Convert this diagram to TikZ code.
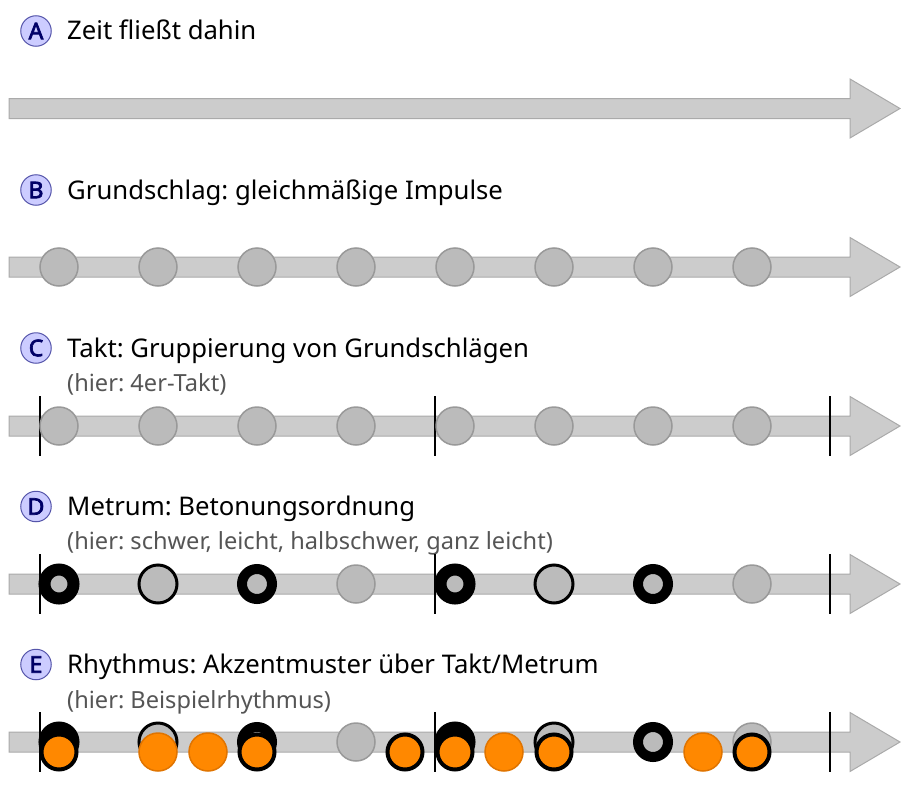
\documentclass[tikz,border=0pt]{standalone}
\usepackage{fontspec}
\setmainfont{Noto Sans}
\newfontfamily\letfont{Noto Sans}[FakeBold=3]
\frenchspacing
\definecolor{shaft}{HTML}{CCCCCC}
\definecolor{shaftline}{HTML}{AAAAAA}
\definecolor{beatfill}{HTML}{BBBBBB}
\definecolor{beatline}{HTML}{999999}
\definecolor{lettfill}{HTML}{CCCCFF}
\definecolor{lettline}{HTML}{5555AA}
\definecolor{lettcol}{HTML}{000066}
\definecolor{subcol}{HTML}{555555}
\definecolor{orfill}{HTML}{FF8800}
\definecolor{orline}{HTML}{E07400}
\tikzset{
  letterdot/.style={circle,draw=lettline,fill=lettfill,line width=1pt,minimum size=30.5pt,inner sep=0pt,text=lettcol,font=\letfont\fontsize{23}{23}\selectfont},
  heading/.style={anchor=base west,inner sep=0pt,font=\fontsize{25.7}{30}\selectfont,text=black},
  subhead/.style={anchor=base west,inner sep=0pt,font=\fontsize{23.6}{27}\selectfont,text=subcol},
  beat/.style={circle,draw=beatline,fill=beatfill,line width=1.5pt,minimum size=38pt,inner sep=0pt},
  mheavy/.style={circle,draw=black,fill=beatfill,line width=12pt,minimum size=29pt,inner sep=0pt},
  mstrong/.style={circle,draw=black,fill=beatfill,line width=10pt,minimum size=30pt,inner sep=0pt},
  mmedium/.style={circle,draw=black,fill=beatfill,line width=3pt,minimum size=38pt,inner sep=0pt},
  ornote/.style={circle,draw=orline,fill=orfill,line width=1.5pt,minimum size=38pt,inner sep=0pt},
  oracc/.style={circle,draw=black,fill=orfill,line width=4pt,minimum size=35pt,inner sep=0pt},
  timearrow/.style={fill=shaft,draw=shaftline,line width=1pt},
  barline/.style={draw=black,line width=2pt},
}
\newcommand{\timeline}[1]{%
  \path[timearrow] (9,#1-10) -- (850,#1-10) -- (850,#1-29.5) -- (900,#1) -- (850,#1+29.5) -- (850,#1+10) -- (9,#1+10) -- cycle;}
\newcommand{\bars}[1]{%
  \foreach \bx in {40,435,830} {\draw[barline] (\bx,#1-30) -- (\bx,#1+30);}}
\begin{document}
\begin{tikzpicture}[x=1pt,y=-1pt]
\useasboundingbox (0,0) rectangle (910,792);
% A
\node[letterdot] (la) at (36,31) {A};
\node[heading] (ha) at (67,40) {Zeit fließt dahin};
\timeline{108.5}
% B
\node[letterdot] (lb) at (36,190) {B};
\node[heading] (hb) at (67,199) {Grundschlag: gleichmäßige Impulse};
\timeline{267}
\foreach \i/\x in {1/59,2/158,3/257,4/356,5/455,6/554,7/653,8/752}
  \node[beat] (b\i) at (\x,267) {};
% C
\node[letterdot] (lc) at (36,348) {C};
\node[heading] (hc) at (67,357) {Takt: Gruppierung von Grundschlägen};
\node[subhead] (sc) at (67,391.5) {(hier: 4er-Takt)};
\timeline{426}
\bars{426}
\foreach \i/\x in {1/59,2/158,3/257,4/356,5/455,6/554,7/653,8/752}
  \node[beat] (c\i) at (\x,426) {};
% D
\node[letterdot] (ld) at (36,506.5) {D};
\node[heading] (hd) at (67,515.5) {Metrum: Betonungsordnung};
\node[subhead] (sd) at (67,549.5) {(hier: schwer, leicht, halbschwer, ganz leicht)};
\timeline{584}
\bars{584}
\foreach \i/\x/\s in {1/59/mheavy,2/158/mmedium,3/257/mstrong,4/356/beat,5/455/mheavy,6/554/mmedium,7/653/mstrong,8/752/beat}
  \node[\s] (d\i) at (\x,584) {};
% E
\node[letterdot] (le) at (36,664.5) {E};
\node[heading] (he) at (67,673.5) {Rhythmus: Akzentmuster über Takt/Metrum};
\node[subhead] (se) at (67,708) {(hier: Beispielrhythmus)};
\timeline{742}
\bars{742}
\foreach \i/\x/\s in {1/59/mheavy,2/158/mmedium,3/257/mstrong,4/356/beat,5/455/mheavy,6/554/mmedium,7/653/mstrong,8/752/beat}
  \node[\s] (e\i) at (\x,742) {};
\foreach \i/\x/\s in {1/59/oracc,2/158/ornote,3/208/ornote,4/257/oracc,5/405/oracc,6/455/oracc,7/504/ornote,8/554/oracc,9/703/ornote,10/752/oracc}
  \node[\s] (r\i) at (\x,752) {};
\end{tikzpicture}
\end{document}
